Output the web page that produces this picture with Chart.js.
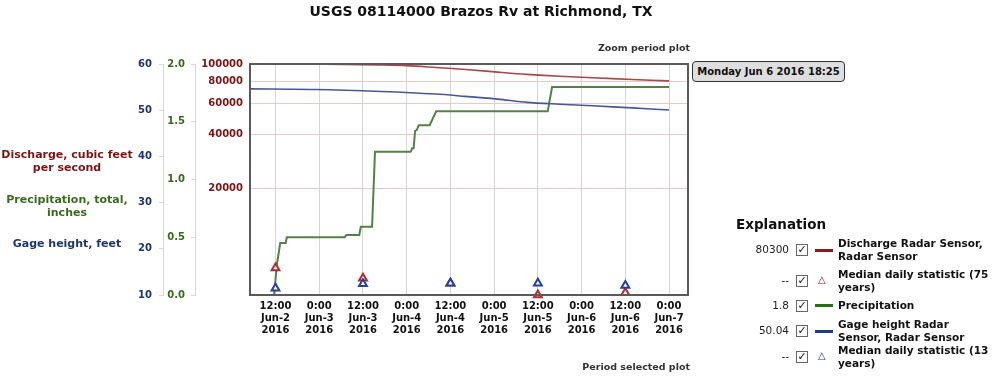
<!DOCTYPE html>
<html>
<head>
<meta charset="utf-8">
<script src="https://cdn.jsdelivr.net/npm/chart.js@4"></script>
<style>
  body { margin: 0; background: #fff; }
  #wrap { position: relative; width: 1000px; height: 378px; font-family: "DejaVu Sans", Verdana, sans-serif; }
  #chart { position: absolute; left: 0; top: 0; }
  .t { position: absolute; white-space: nowrap; font-weight: bold; }
  .axt { position: absolute; width: 134px; left: 0; text-align: center; font-weight: bold; font-size: 11px; line-height: 13.4px; }
  .row { position: absolute; left: 740px; width: 260px; height: 26px; }
  .val { position: absolute; right: 211px; font-size: 10.5px; color: #222; }
  .box { position: absolute; left: 56px; width: 10px; height: 10px; border: 1px solid #666; font-size: 11px; font-weight: bold; line-height: 10px; text-align: center; color: #111; }
  .swatch { position: absolute; left: 75px; width: 18px; height: 3px; }
  .tri { position: absolute; left: 78px; font-size: 10px; }
  .lbl { position: absolute; left: 98px; font-size: 10.5px; font-weight: bold; line-height: 13px; color: #111; }
</style>
</head>
<body>
<div id="wrap">
  <canvas id="chart" width="1000" height="378"></canvas>

  <div class="t" style="left:0;width:962px;text-align:center;top:3px;font-size:14px;color:#111;">USGS 08114000 Brazos Rv at Richmond, TX</div>
  <div class="t" style="right:310px;top:42px;font-size:9.5px;color:#333;">Zoom period plot</div>
  <div class="t" style="right:310px;top:361px;font-size:9.5px;color:#333;">Period selected plot</div>

  <div class="axt" style="top:148px;color:#7d1414;">Discharge, cubic feet<br>per second</div>
  <div class="axt" style="top:193px;color:#3a6b1c;">Precipitation, total,<br>inches</div>
  <div class="axt" style="top:237px;color:#1e356e;">Gage height, feet</div>

  <div class="t" style="left:692px;top:61px;width:151px;height:19px;border:1.5px solid #333;border-radius:4px;background:#dedede;font-size:10px;line-height:19px;text-align:center;color:#111;">Monday Jun 6 2016 18:25</div>

  <div class="t" style="left:736px;top:216px;font-size:13.5px;color:#111;">Explanation</div>
  <div id="legend"></div>
</div>

<script>
// x positions are hours after Jun 2 2016 0:00
const tickHours = [12, 24, 36, 48, 60, 72, 84, 96, 108, 120];
const tickLabels = [
  ["12:00", "Jun-2", "2016"], ["0:00", "Jun-3", "2016"],
  ["12:00", "Jun-3", "2016"], ["0:00", "Jun-4", "2016"],
  ["12:00", "Jun-4", "2016"], ["0:00", "Jun-5", "2016"],
  ["12:00", "Jun-5", "2016"], ["0:00", "Jun-6", "2016"],
  ["12:00", "Jun-6", "2016"], ["0:00", "Jun-7", "2016"]
];

const dischargeHours = [5, 20, 31, 40, 48, 56, 65, 73, 81, 90, 99, 110, 120];
const dischargeCfs = [99800, 99700, 99400, 98800, 97900, 95600, 92900, 90000, 87400, 85300, 83600, 81800, 80300];

const precipHours = [5, 11.6, 12.4, 13.3, 14.8, 15.1, 31.0, 31.4, 35.0, 35.4, 38.5, 39.3, 49.1, 49.5, 49.9, 50.3, 50.8, 51.3, 54.3, 56.1, 86.7, 87.9, 120];
const precipInches = [0, 0, 0.27, 0.45, 0.45, 0.50, 0.50, 0.52, 0.52, 0.59, 0.59, 1.24, 1.24, 1.27, 1.27, 1.42, 1.43, 1.47, 1.47, 1.59, 1.59, 1.80, 1.80];

const gageHours = [5, 23, 41, 56, 64, 73, 81, 90, 99, 110, 120];
const gageFeet = [54.62, 54.49, 54.05, 53.5, 53.0, 52.4, 51.7, 51.3, 50.95, 50.5, 50.04];

const medianHours = [12, 36, 60, 84, 108];
const medianDischarge = [7090, 6220, 5830, 5000, 5150];
const medianGage = [11.48, 12.44, 12.57, 12.57, 12.07];

const dischargeTicks = [20000, 40000, 60000, 80000, 100000];

const legendRows = [
  {value: "80300", kind: "line", color: "#8b1a1a", text: ["Discharge Radar Sensor,", "Radar Sensor"], top: 237},
  {value: "--", kind: "tri", color: "#a82020", text: ["Median daily statistic (75", "years)"], top: 268},
  {value: "1.8", kind: "line", color: "#2a6e1a", text: ["Precipitation"], top: 299},
  {value: "50.04", kind: "line", color: "#1f3a8a", text: ["Gage height Radar", "Sensor, Radar Sensor"], top: 318},
  {value: "--", kind: "tri", color: "#1f3a8a", text: ["Median daily statistic (13", "years)"], top: 344}
];

const pts = (xs, ys) => xs.map((x, i) => ({x: x, y: ys[i]}));
const bold = size => ({family: "'DejaVu Sans', Verdana, sans-serif", weight: "bold", size: size});

// dark frame round the plot area
const plotFrame = {
  id: "plotFrame",
  afterDatasetsDraw(c) {
    const a = c.chartArea;
    const ctx = c.ctx;
    ctx.save();
    ctx.strokeStyle = "#5a5a5a";
    ctx.lineWidth = 2;
    ctx.strokeRect(a.left, a.top, a.right - a.left, a.bottom - a.top);
    ctx.restore();
  }
};

new Chart(document.querySelector("#chart"), {
  type: "line",
  data: {
    datasets: [
      {data: pts(medianHours, medianGage), yAxisID: "gage", showLine: false, pointStyle: "triangle",
        pointRadius: 4.5, borderWidth: 2, borderColor: "#2140a0", backgroundColor: "#fff", order: 1},
      {data: pts(medianHours, medianDischarge), yAxisID: "dis", showLine: false, pointStyle: "triangle",
        pointRadius: 4.5, borderWidth: 2, borderColor: "#b52a2a", backgroundColor: "#fff", order: 2, clip: false},
      {data: pts(gageHours, gageFeet), yAxisID: "gage", borderColor: "#4a5796", borderWidth: 1.6,
        pointRadius: 0, tension: 0.3, order: 3},
      {data: pts(precipHours, precipInches), yAxisID: "pre", borderColor: "#56804a", borderWidth: 2,
        pointRadius: 0, order: 4},
      {data: pts(dischargeHours, dischargeCfs), yAxisID: "dis", borderColor: "#a84848", borderWidth: 1.6,
        pointRadius: 0, tension: 0.3, order: 5}
    ]
  },
  options: {
    responsive: false,
    animation: false,
    layout: {padding: {left: 120, top: 64, right: 312, bottom: 33}},
    plugins: {legend: {display: false}, tooltip: {enabled: false}},
    scales: {
      x: {
        type: "linear", min: 5, max: 125.2, bounds: "data",
        afterBuildTicks: s => { s.ticks = tickHours.map(v => ({value: v})); },
        afterFit: s => { s.height = 50; },
        ticks: {
          callback: v => tickLabels[tickHours.indexOf(v)],
          font: bold(10), color: "#111", padding: 5, maxRotation: 0, autoSkip: false
        },
        grid: {color: "#d6d6d6", drawTicks: false},
        border: {display: false}
      },
      gage: {
        type: "linear", position: "left", weight: 3, min: 10, max: 60, bounds: "data",
        afterFit: s => { s.width = 43; },
        ticks: {stepSize: 10, font: bold(10), color: "#1e356e", padding: 7},
        grid: {drawOnChartArea: false, tickLength: 4, color: "#d8d8d8"},
        border: {display: true, color: "#d8d8d8"}
      },
      pre: {
        type: "linear", position: "left", weight: 2, min: 0, max: 2, bounds: "data",
        afterFit: s => { s.width = 32; },
        ticks: {stepSize: 0.5, callback: v => v.toFixed(1), font: bold(10), color: "#3a6b1c", padding: 6},
        grid: {drawOnChartArea: false, tickLength: 4, color: "#d8d8d8"},
        border: {display: true, color: "#d8d8d8"}
      },
      dis: {
        type: "logarithmic", position: "left", weight: 1, min: 5000, max: 100000, bounds: "data",
        afterBuildTicks: s => { s.ticks = dischargeTicks.map(v => ({value: v})); },
        afterFit: s => { s.width = 55; },
        ticks: {callback: v => String(v), font: bold(10), color: "#7d1414", padding: 7},
        grid: {color: "#ebc9c9", drawTicks: false},
        border: {display: false}
      }
    }
  },
  plugins: [plotFrame]
});

// explanation panel
const legend = document.querySelector("#legend");
legendRows.forEach(r => {
  const row = document.createElement("div");
  row.className = "row";
  row.style.top = r.top + "px";
  const mid = r.text.length > 1 ? 13 : 6.5;
  let mark;
  if (r.kind === "line") {
    mark = `<div class="swatch" style="background:${r.color};top:${mid - 1.5}px"></div>`;
  } else {
    mark = `<div class="tri" style="color:${r.color};top:${mid - 7}px">&#9651;</div>`;
  }
  row.innerHTML =
    `<div class="val" style="top:${mid - 7}px">${r.value}</div>` +
    `<div class="box" style="top:${mid - 6}px">&#10003;</div>` + mark +
    `<div class="lbl" style="top:${mid - 13 + (r.text.length > 1 ? 0 : 6.5)}px">${r.text.join("<br>")}</div>`;
  legend.appendChild(row);
});
</script>
</body>
</html>
